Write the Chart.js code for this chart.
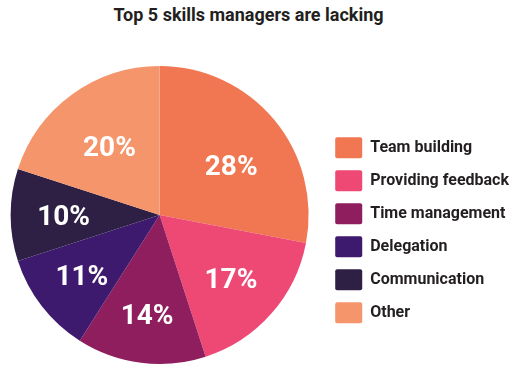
<!DOCTYPE html>
<html>
<head>
<meta charset="utf-8">
<script src="https://cdn.jsdelivr.net/npm/chart.js@4"></script>
<style>
  html, body { margin: 0; padding: 0; background: #fff; overflow: hidden; }
  #wrap { position: relative; width: 530px; height: 374px; overflow: hidden; }
  #title {
    position: absolute; top: 4px; left: 0; width: 497px;
    text-align: center; font: bold 18px Roboto, sans-serif; color: #231f20;
  }
  /* nudged left so the pie sits where the original has it */
  canvas { position: absolute; left: -4px; top: 0; }
</style>
</head>
<body>
<div id="wrap">
  <div id="title">Top 5 skills managers are lacking</div>
  <canvas id="skillsChart" width="530" height="374"></canvas>
</div>
<script>
// Chart data
const skills = ['Team building', 'Providing feedback', 'Time management', 'Delegation', 'Communication', 'Other'];
const shares = [28, 17, 14, 11, 10, 20];
const sliceColors = ['#f07752', '#ee4874', '#8e1e5d', '#3e1a6e', '#2e2044', '#f5956b'];

// where each percentage sits: share of the radius, and a small turn (degrees) off the slice middle
const labelRadius = [0.585, 0.638, 0.67, 0.66, 0.644, 0.573];
const labelTurn = [4.8, 0, 0, 0, 0, 0];

const percentLabels = {
    id: 'percentLabels',
    afterDatasetsDraw(chart) {
        const ctx = chart.ctx;
        const meta = chart.getDatasetMeta(0);
        const size = 28;
        ctx.save();
        ctx.fillStyle = '#ffffff';
        ctx.font = 'bold ' + size + 'px Roboto, sans-serif';
        ctx.textAlign = 'center';
        ctx.textBaseline = 'alphabetic';
        meta.data.forEach(function(arc, i) {
            const p = arc.getProps(['x', 'y', 'startAngle', 'endAngle', 'outerRadius'], true);
            const mid = (p.startAngle + p.endAngle) / 2 + labelTurn[i] * Math.PI / 180;
            const r = p.outerRadius * labelRadius[i];
            // centre the digits' cap height on the point
            ctx.fillText(shares[i] + '%', p.x + Math.cos(mid) * r, p.y + Math.sin(mid) * r + size * 0.36);
        });
        ctx.restore();
    }
};

const ctx = document.getElementById('skillsChart').getContext('2d');
const skillsChart = new Chart(ctx, {
    type: 'pie',
    data: {
        labels: skills,
        datasets: [{
            data: shares,
            backgroundColor: sliceColors,
            borderWidth: 0
        }]
    },
    options: {
        responsive: false,
        animation: false,
        layout: {
            padding: { top: 66, bottom: 10, left: 0, right: 7 }
        },
        plugins: {
            title: { display: false },
            tooltip: { enabled: false },
            legend: {
                position: 'right',
                align: 'center',
                title: { display: true, text: '', padding: 8 },
                labels: {
                    boxWidth: 27,
                    boxHeight: 21,
                    padding: 12,
                    color: '#231f20',
                    font: { family: 'Roboto', weight: 'bold', size: 16 },
                    generateLabels(chart) {
                        return skills.map(function(name, i) {
                            return {
                                text: name,
                                fillStyle: sliceColors[i],
                                strokeStyle: sliceColors[i],
                                fontColor: '#231f20',
                                lineWidth: 0,
                                borderRadius: 2,
                                index: i
                            };
                        });
                    }
                }
            }
        }
    },
    plugins: [percentLabels]
});
</script>
</body>
</html>
